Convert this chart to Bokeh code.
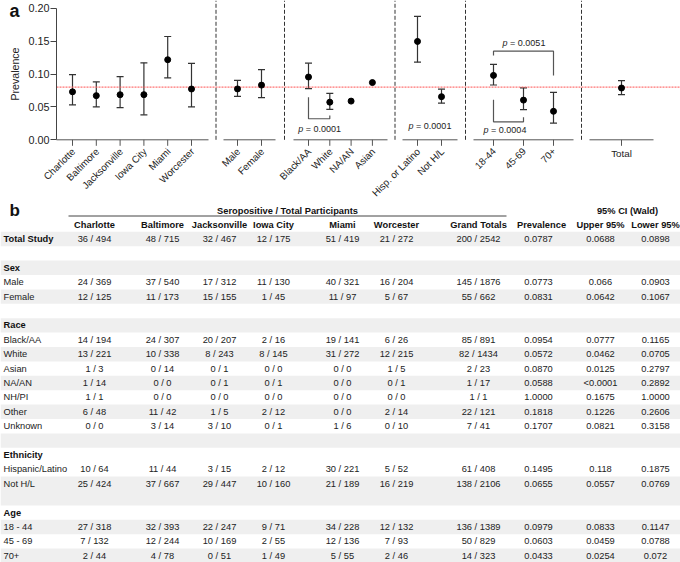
import math
from bokeh.plotting import figure
from bokeh.models import (Range1d, FixedTicker, NumeralTickFormatter,
                          ColumnDataSource, Whisker, TeeHead)
from bokeh.layouts import column
from bokeh.embed import file_html
from bokeh.resources import INLINE
from bokeh.core.properties import value

FONT = "Liberation Sans"

# ---------------- Panel a data ----------------
site_labels = ["Charlotte", "Baltimore", "Jacksonville", "Iowa City", "Miami", "Worcester"]
site_prev = [0.0729, 0.0671, 0.0685, 0.0686, 0.1217, 0.0772]
site_lo = [0.053, 0.050, 0.049, 0.038, 0.094, 0.050]
site_hi = [0.099, 0.088, 0.096, 0.117, 0.157, 0.116]

sex_labels = ["Male", "Female"]
sex_prev = [0.0773, 0.0831]
sex_lo = [0.066, 0.0642]
sex_hi = [0.0903, 0.1067]

race_labels = ["Black/AA", "White", "NA/AN", "Asian"]
race_prev = [0.0954, 0.0572, 0.0588, 0.0870]
race_lo = [0.0777, 0.0462, None, None]
race_hi = [0.1165, 0.0705, None, None]

eth_labels = ["Hisp. or Latino", "Not H/L"]
eth_prev = [0.1495, 0.0655]
eth_lo = [0.118, 0.0557]
eth_hi = [0.1875, 0.0769]

age_labels = ["18-44", "45-69", "70+"]
age_prev = [0.0979, 0.0603, 0.0433]
age_lo = [0.0833, 0.0459, 0.0254]
age_hi = [0.1147, 0.0788, 0.072]

total_labels = ["Total"]
total_prev = [0.0787]
total_lo = [0.0688]
total_hi = [0.0898]

reference_prevalence = 0.08
y_ticks = [0.0, 0.05, 0.10, 0.15, 0.20]

# significance annotations: (group index, i, j, p-value)
sig_groups = [2, 3, 4, 4]
sig_i = [0, 0, 0, 0]
sig_j = [1, 1, 1, 2]
sig_p = ["0.0001", "0.0001", "0.0004", "0.0051"]

# ---------------- Panel b data ----------------
row_labels = ["Total Study", "", "Sex", "Male", "Female", "", "Race", "Black/AA", "White",
              "Asian", "NA/AN", "NH/PI", "Other", "Unknown", "", "Ethnicity",
              "Hispanic/Latino", "Not H/L", "", "Age", "18 - 44", "45 - 69", "70+"]
bold_rows = ["Total Study", "Sex", "Race", "Ethnicity", "Age"]
col_charlotte = ["36 / 494", "", "", "24 / 369", "12 / 125", "", "", "14 / 194", "13 / 221", "1 / 3",
                 "1 / 14", "1 / 1", "6 / 48", "0 / 0", "", "", "10 / 64", "25 / 424", "", "",
                 "27 / 318", "7 / 132", "2 / 44"]
col_baltimore = ["48 / 715", "", "", "37 / 540", "11 / 173", "", "", "24 / 307", "10 / 338", "0 / 14",
                 "0 / 0", "0 / 0", "11 / 42", "3 / 14", "", "", "11 / 44", "37 / 667", "", "",
                 "32 / 393", "12 / 244", "4 / 78"]
col_jacksonville = ["32 / 467", "", "", "17 / 312", "15 / 155", "", "", "20 / 207", "8 / 243", "0 / 1",
                    "0 / 1", "0 / 0", "1 / 5", "3 / 10", "", "", "3 / 15", "29 / 447", "", "",
                    "22 / 247", "10 / 169", "0 / 51"]
col_iowa = ["12 / 175", "", "", "11 / 130", "1 / 45", "", "", "2 / 16", "8 / 145", "0 / 0",
            "0 / 1", "0 / 0", "2 / 12", "0 / 1", "", "", "2 / 12", "10 / 160", "", "",
            "9 / 71", "2 / 55", "1 / 49"]
col_miami = ["51 / 419", "", "", "40 / 321", "11 / 97", "", "", "19 / 141", "31 / 272", "0 / 0",
             "0 / 0", "0 / 0", "0 / 0", "1 / 6", "", "", "30 / 221", "21 / 189", "", "",
             "34 / 228", "12 / 136", "5 / 55"]
col_worcester = ["21 / 272", "", "", "16 / 204", "5 / 67", "", "", "6 / 26", "12 / 215", "1 / 5",
                 "0 / 1", "0 / 0", "2 / 14", "0 / 10", "", "", "5 / 52", "16 / 219", "", "",
                 "12 / 132", "7 / 93", "2 / 46"]
col_grand = ["200 / 2542", "", "", "145 / 1876", "55 / 662", "", "", "85 / 891", "82 / 1434", "2 / 23",
             "1 / 17", "1 / 1", "22 / 121", "7 / 41", "", "", "61 / 408", "138 / 2106", "", "",
             "136 / 1389", "50 / 829", "14 / 323"]
col_prev = ["0.0787", "", "", "0.0773", "0.0831", "", "", "0.0954", "0.0572", "0.0870",
            "0.0588", "1.0000", "0.1818", "0.1707", "", "", "0.1495", "0.0655", "", "",
            "0.0979", "0.0603", "0.0433"]
col_upper = ["0.0688", "", "", "0.066", "0.0642", "", "", "0.0777", "0.0462", "0.0125",
             "<0.0001", "0.1675", "0.1226", "0.0821", "", "", "0.118", "0.0557", "", "",
             "0.0833", "0.0459", "0.0254"]
col_lower = ["0.0898", "", "", "0.0903", "0.1067", "", "", "0.1165", "0.0705", "0.2797",
             "0.2892", "1.0000", "0.2606", "0.3158", "", "", "0.1875", "0.0769", "", "",
             "0.1147", "0.0788", "0.072"]
table_headers = ["Charlotte", "Baltimore", "Jacksonville", "Iowa City", "Miami", "Worcester",
                 "Grand Totals", "Prevalence", "Upper 95%", "Lower 95%"]
band_rows = [1, 0, 1, 0, 1, 0, 1, 0, 1, 0, 1, 0, 1, 0, 1, 0, 0, 1, 1, 0, 1, 0, 1]

# ================= Panel a =================
groups = [
    (site_labels, site_prev, site_lo, site_hi),
    (sex_labels, sex_prev, sex_lo, sex_hi),
    (race_labels, race_prev, race_lo, race_hi),
    (eth_labels, eth_prev, eth_lo, eth_hi),
    (age_labels, age_prev, age_lo, age_hi),
    (total_labels, total_prev, total_lo, total_hi),
]
# layout (horizontal pixel-like units): axis segment start/end, first point, step
group_layout = [(56, 208, 72, 23.8), (223, 275, 237, 24), (293, 387, 308, 21.3),
                (402, 457, 417, 24), (473, 573, 493, 30), (589, 653, 621, 0)]
group_rotate = [True, True, True, True, True, False]
Y_AXIS_X = 56

PA_H = 200
PX = 0.2 / 131.6          # data units per vertical pixel
Y_TOP = 0.2 + 7.7 * PX
Y_BOT = -(PA_H - 139.3) * PX

pa = figure(width=680, height=PA_H, x_range=Range1d(0, 680), y_range=Range1d(Y_BOT, Y_TOP),
            output_backend="svg", toolbar_location=None, min_border=0,
            outline_line_color=None, x_axis_location=None)
pa.frame_align = False
pa.grid.visible = False

xs_all, ys_all = [], []
wx, wlo, whi = [], [], []
group_x = []
rot_x, rot_lab, flat_x, flat_lab = [], [], [], []
for (labs, prev, lo, hi), (s0, s1, first, step), rot in zip(groups, group_layout, group_rotate):
    gx = [first + k * step for k in range(len(labs))]
    group_x.append(gx)
    for xv, lab, pv, l, h in zip(gx, labs, prev, lo, hi):
        xs_all.append(xv)
        ys_all.append(pv)
        if rot:
            rot_x.append(xv)
            rot_lab.append(lab)
        else:
            flat_x.append(xv)
            flat_lab.append(lab)
        if l is not None:
            wx.append(xv)
            wlo.append(l)
            whi.append(h)

AXC = "#555555"
# broken x axis: one line segment per group, ticks and labels at category positions
seg_start = [g[0] for g in group_layout]
seg_end = [g[1] for g in group_layout]
pa.segment(x0=seg_start, y0=[0] * len(seg_start), x1=seg_end, y1=[0] * len(seg_end),
           line_color=AXC, line_width=1)
pa.segment(x0=xs_all, y0=[0] * len(xs_all), x1=xs_all, y1=[-6 * PX] * len(xs_all),
           line_color=AXC, line_width=1)
pa.text([x + 1 for x in rot_x], [-10 * PX] * len(rot_x), text=rot_lab, angle=math.pi / 4,
        text_align="right", text_baseline="middle", text_font=value(FONT),
        text_font_size="9.8px", text_color="#222222")
pa.text(flat_x, [-14 * PX] * len(flat_x), text=flat_lab, text_align="center",
        text_baseline="middle", text_font=value(FONT), text_font_size="9.8px",
        text_color="#222222")

# dashed separators between groups
sep_x = [(a[1] + b[0]) / 2 for a, b in zip(group_layout[:-1], group_layout[1:])]
pa.segment(x0=sep_x, y0=[0] * len(sep_x), x1=sep_x, y1=[Y_TOP] * len(sep_x),
           line_color="#333333", line_dash="4 2", line_width=1)

# overall prevalence reference line
pa.segment(x0=[Y_AXIS_X], y0=[reference_prevalence], x1=[680], y1=[reference_prevalence],
           line_color="#ff5a5a", line_dash="2 1", line_width=1.2, line_alpha=0.85)

wsrc = ColumnDataSource(dict(x=wx, lo=wlo, hi=whi))
pa.add_layout(Whisker(source=wsrc, base="x", lower="lo", upper="hi", line_color="#333333",
                      line_width=1.2,
                      upper_head=TeeHead(size=7, line_color="#333333", line_width=1.2),
                      lower_head=TeeHead(size=7, line_color="#333333", line_width=1.2)))
pa.scatter(xs_all, ys_all, size=6, color="black")

# significance brackets
bracket_y = [(0.0648, 0.032, 0.037), None, (0.0608, 0.0273, 0.0344), (0.128, 0.1347, 0.0977)]
ptext_y = [0.0167, 0.0203, 0.0142, 0.147]
ptext_dx = [0, 0, -4, 0]
for g, i, j, pv, br, ty, dx in zip(sig_groups, sig_i, sig_j, sig_p, bracket_y, ptext_y, ptext_dx):
    x_i = group_x[g][i]
    x_j = group_x[g][j]
    if br is not None:
        pa.line([x_i, x_i, x_j, x_j], [br[0], br[1], br[1], br[2]], line_color="#555555",
                line_width=1.2)
    cx = (x_i + x_j) / 2 + dx
    anchor = cx - 16
    pa.text([anchor], [ty], text=["p"], text_align="right", text_baseline="middle",
            text_font=value(FONT), text_font_size="9px", text_font_style="italic",
            text_color="#222222")
    pa.text([anchor + 2.6], [ty], text=["= " + pv], text_align="left", text_baseline="middle",
            text_font=value(FONT), text_font_size="9px", text_color="#222222")

yax = pa.yaxis[0]
yax.fixed_location = Y_AXIS_X
yax.ticker = FixedTicker(ticks=y_ticks)
yax.formatter = NumeralTickFormatter(format="0.00")
yax.bounds = (0, 0.2)
yax.axis_line_color = "#444444"
yax.major_tick_line_color = "#444444"
yax.major_tick_out = 6
yax.major_tick_in = 0
yax.minor_tick_line_color = None
yax.major_label_standoff = 1
yax.axis_label = "Prevalence"
yax.axis_label_standoff = 4
yax.axis_label_text_font = FONT
yax.axis_label_text_font_size = "10.6px"
yax.axis_label_text_font_style = "normal"
yax.axis_label_text_color = "#222222"
yax.major_label_text_font = FONT
yax.major_label_text_font_size = "10.8px"
yax.major_label_text_color = "#222222"

pa.text([9], [Y_TOP - 10.5 * PX], text=["a"], text_align="left", text_baseline="middle",
        text_font=value(FONT), text_font_size="18px", text_font_style="bold",
        text_color="#111111")

# ================= Panel b =================
pb = figure(width=680, height=362, x_range=Range1d(0, 680), y_range=Range1d(562, 200),
            output_backend="svg", toolbar_location=None, min_border=0,
            x_axis_location=None, y_axis_location=None, outline_line_color=None)
pb.frame_align = False
pb.grid.visible = False

row_y0 = 238.5
row_step = 14.4
row_y = [row_y0 + k * row_step for k in range(len(row_labels))]
band_y = [yv for yv, f in zip(row_y, band_rows) if f]
pb.hbar(y=band_y, height=row_step, left=0, right=680, color="#efefef", line_color=None)

col_x = [94, 162, 219, 273, 342, 396, 478, 538, 600, 655]
header_x = [94, 162, 219, 273, 342, 396, 478, 541, 600, 655]
columns = [col_charlotte, col_baltimore, col_jacksonville, col_iowa, col_miami, col_worcester,
           col_grand, col_prev, col_upper, col_lower]

TS = "9.3px"
tx, ty, tt = [], [], []
for cx, col in zip(col_x, columns):
    for yv, s in zip(row_y, col):
        if s:
            tx.append(cx)
            ty.append(yv)
            tt.append(s)
pb.text(tx, ty, text=tt, text_align="center", text_baseline="middle", text_font=value(FONT),
        text_font_size=TS, text_color="#222222")

lab_n = [(yv, s) for yv, s in zip(row_y, row_labels) if s and s not in bold_rows]
lab_b = [(yv, s) for yv, s in zip(row_y, row_labels) if s in bold_rows]
pb.text([3] * len(lab_n), [v[0] for v in lab_n], text=[v[1] for v in lab_n], text_align="left",
        text_baseline="middle", text_font=value(FONT), text_font_size=TS, text_color="#222222")
pb.text([3] * len(lab_b), [v[0] for v in lab_b], text=[v[1] for v in lab_b], text_align="left",
        text_baseline="middle", text_font=value(FONT), text_font_size=TS,
        text_font_style="bold", text_color="#111111")

pb.text(header_x, [224.5] * len(header_x), text=table_headers, text_align="center",
        text_baseline="middle", text_font=value(FONT), text_font_size=TS,
        text_font_style="bold", text_color="#111111")
pb.text([287, 627], [210, 210], text=["Seropositive / Total Participants", "95% CI (Wald)"],
        text_align="center", text_baseline="middle", text_font=value(FONT),
        text_font_size=TS, text_font_style="bold", text_color="#111111")
pb.segment(x0=[68], y0=[215.5], x1=[506], y1=[215.5], line_color="#444444", line_width=1)
pb.text([9], [210], text=["b"], text_align="left", text_baseline="middle",
        text_font=value(FONT), text_font_size="17px", text_font_style="bold",
        text_color="#111111")

layout = column(pa, pb)
open("out.html", "w").write(file_html(layout, INLINE))
